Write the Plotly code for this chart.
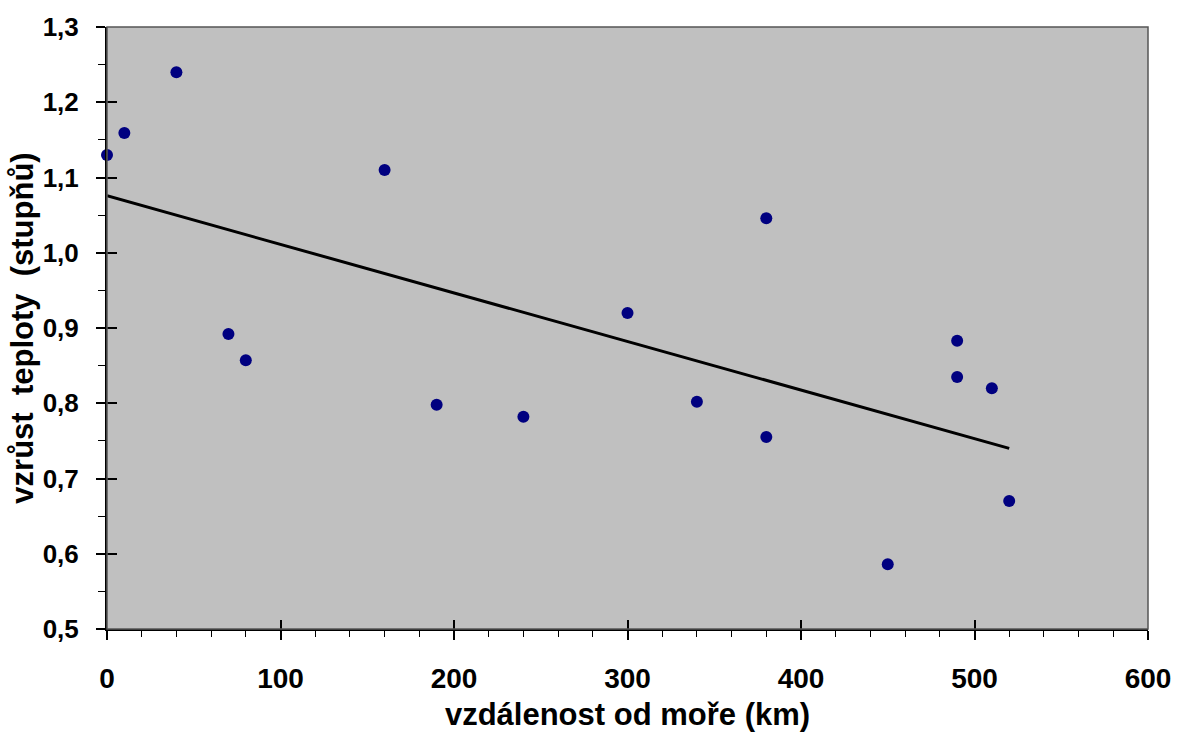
import numpy as np
import plotly.graph_objects as go

# distance from the sea (km) and temperature increase (degrees)
distance_km = [0, 10, 40, 70, 80, 160, 190, 240, 300, 340, 380, 380, 450, 490, 490, 510, 520]
temp_rise = [1.130, 1.159, 1.240, 0.892, 0.857, 1.110, 0.798, 0.782, 0.920, 0.802,
             1.046, 0.755, 0.586, 0.883, 0.835, 0.820, 0.670]

x_ticks = [0, 100, 200, 300, 400, 500, 600]
y_ticks = [0.5, 0.6, 0.7, 0.8, 0.9, 1.0, 1.1, 1.2, 1.3]
y_tick_labels = ["0,5", "0,6", "0,7", "0,8", "0,9", "1,0", "1,1", "1,2", "1,3"]

# linear trend through the observations
slope, intercept = np.polyfit(distance_km, temp_rise, 1)
trend_x = [min(distance_km), max(distance_km)]
trend_y = [intercept + slope * v for v in trend_x]

FONT = "Liberation Sans, Arial, sans-serif"

fig = go.Figure()
fig.add_trace(go.Scatter(x=trend_x, y=trend_y, mode="lines",
                         line=dict(color="black", width=3),
                         hoverinfo="skip", showlegend=False))
fig.add_trace(go.Scatter(x=distance_km, y=temp_rise, mode="markers",
                         marker=dict(color="#000080", size=12),
                         showlegend=False, cliponaxis=False))

xr = [0, 600]
yr = [0.5, 1.3]

fig.update_layout(
    width=1177, height=733,
    margin=dict(l=107, r=29, t=27, b=104),
    paper_bgcolor="white",
    plot_bgcolor="#C0C0C0",
    font=dict(family=FONT, color="black"),
    xaxis=dict(
        range=xr, tickvals=x_ticks, ticktext=[str(v) for v in x_ticks],
        automargin=False,
        showgrid=False, zeroline=False, showline=True, linecolor="black", linewidth=2,
        ticks="outside", ticklen=9, tickwidth=1.5, tickcolor="black",
        ticklabelstandoff=14,
        minor=dict(dtick=20, ticks="outside", ticklen=6, tickwidth=1.2, tickcolor="black"),
        tickfont=dict(size=28, family=FONT, weight="bold"),
        title=dict(text="vzdálenost od moře (km)", standoff=11,
                   font=dict(size=31, family=FONT, weight="bold")),
    ),
    yaxis=dict(
        range=yr, tickvals=y_ticks, ticktext=y_tick_labels,
        automargin=False,
        showgrid=False, zeroline=False, showline=True, linecolor="black", linewidth=2,
        ticks="outside", ticklen=9, tickwidth=1.5, tickcolor="black",
        ticklabelstandoff=12,
        minor=dict(dtick=0.05, ticks="outside", ticklen=7, tickwidth=1.2, tickcolor="black"),
        tickfont=dict(size=26, family=FONT, weight="bold"),
        title=dict(text="vzrůst\u00a0\u00a0teploty\u00a0\u00a0(stupňů)", standoff=0,
                   font=dict(size=31, family=FONT, weight="bold")),
    ),
    # overlaid axes giving the inward half of the major ticks
    xaxis2=dict(overlaying="x", range=xr, tickvals=x_ticks, showticklabels=False,
                automargin=False,
                ticks="inside", ticklen=9, tickwidth=1.5, tickcolor="black",
                showgrid=False, zeroline=False, showline=False),
    yaxis2=dict(overlaying="y", range=yr, tickvals=y_ticks, showticklabels=False,
                automargin=False,
                ticks="inside", ticklen=10, tickwidth=1.5, tickcolor="black",
                showgrid=False, zeroline=False, showline=False),
)

# dummy trace so the overlaid axes are drawn
fig.add_trace(go.Scatter(x=[None], y=[None], xaxis="x2", yaxis="y2",
                         showlegend=False, hoverinfo="skip"))

# plot-area frame on the top and right sides
fig.add_shape(type="rect", xref="paper", yref="paper", x0=0, y0=0, x1=1, y1=1,
              line=dict(color="#555555", width=1.5), layer="above")

fig.write_html("out.html")
